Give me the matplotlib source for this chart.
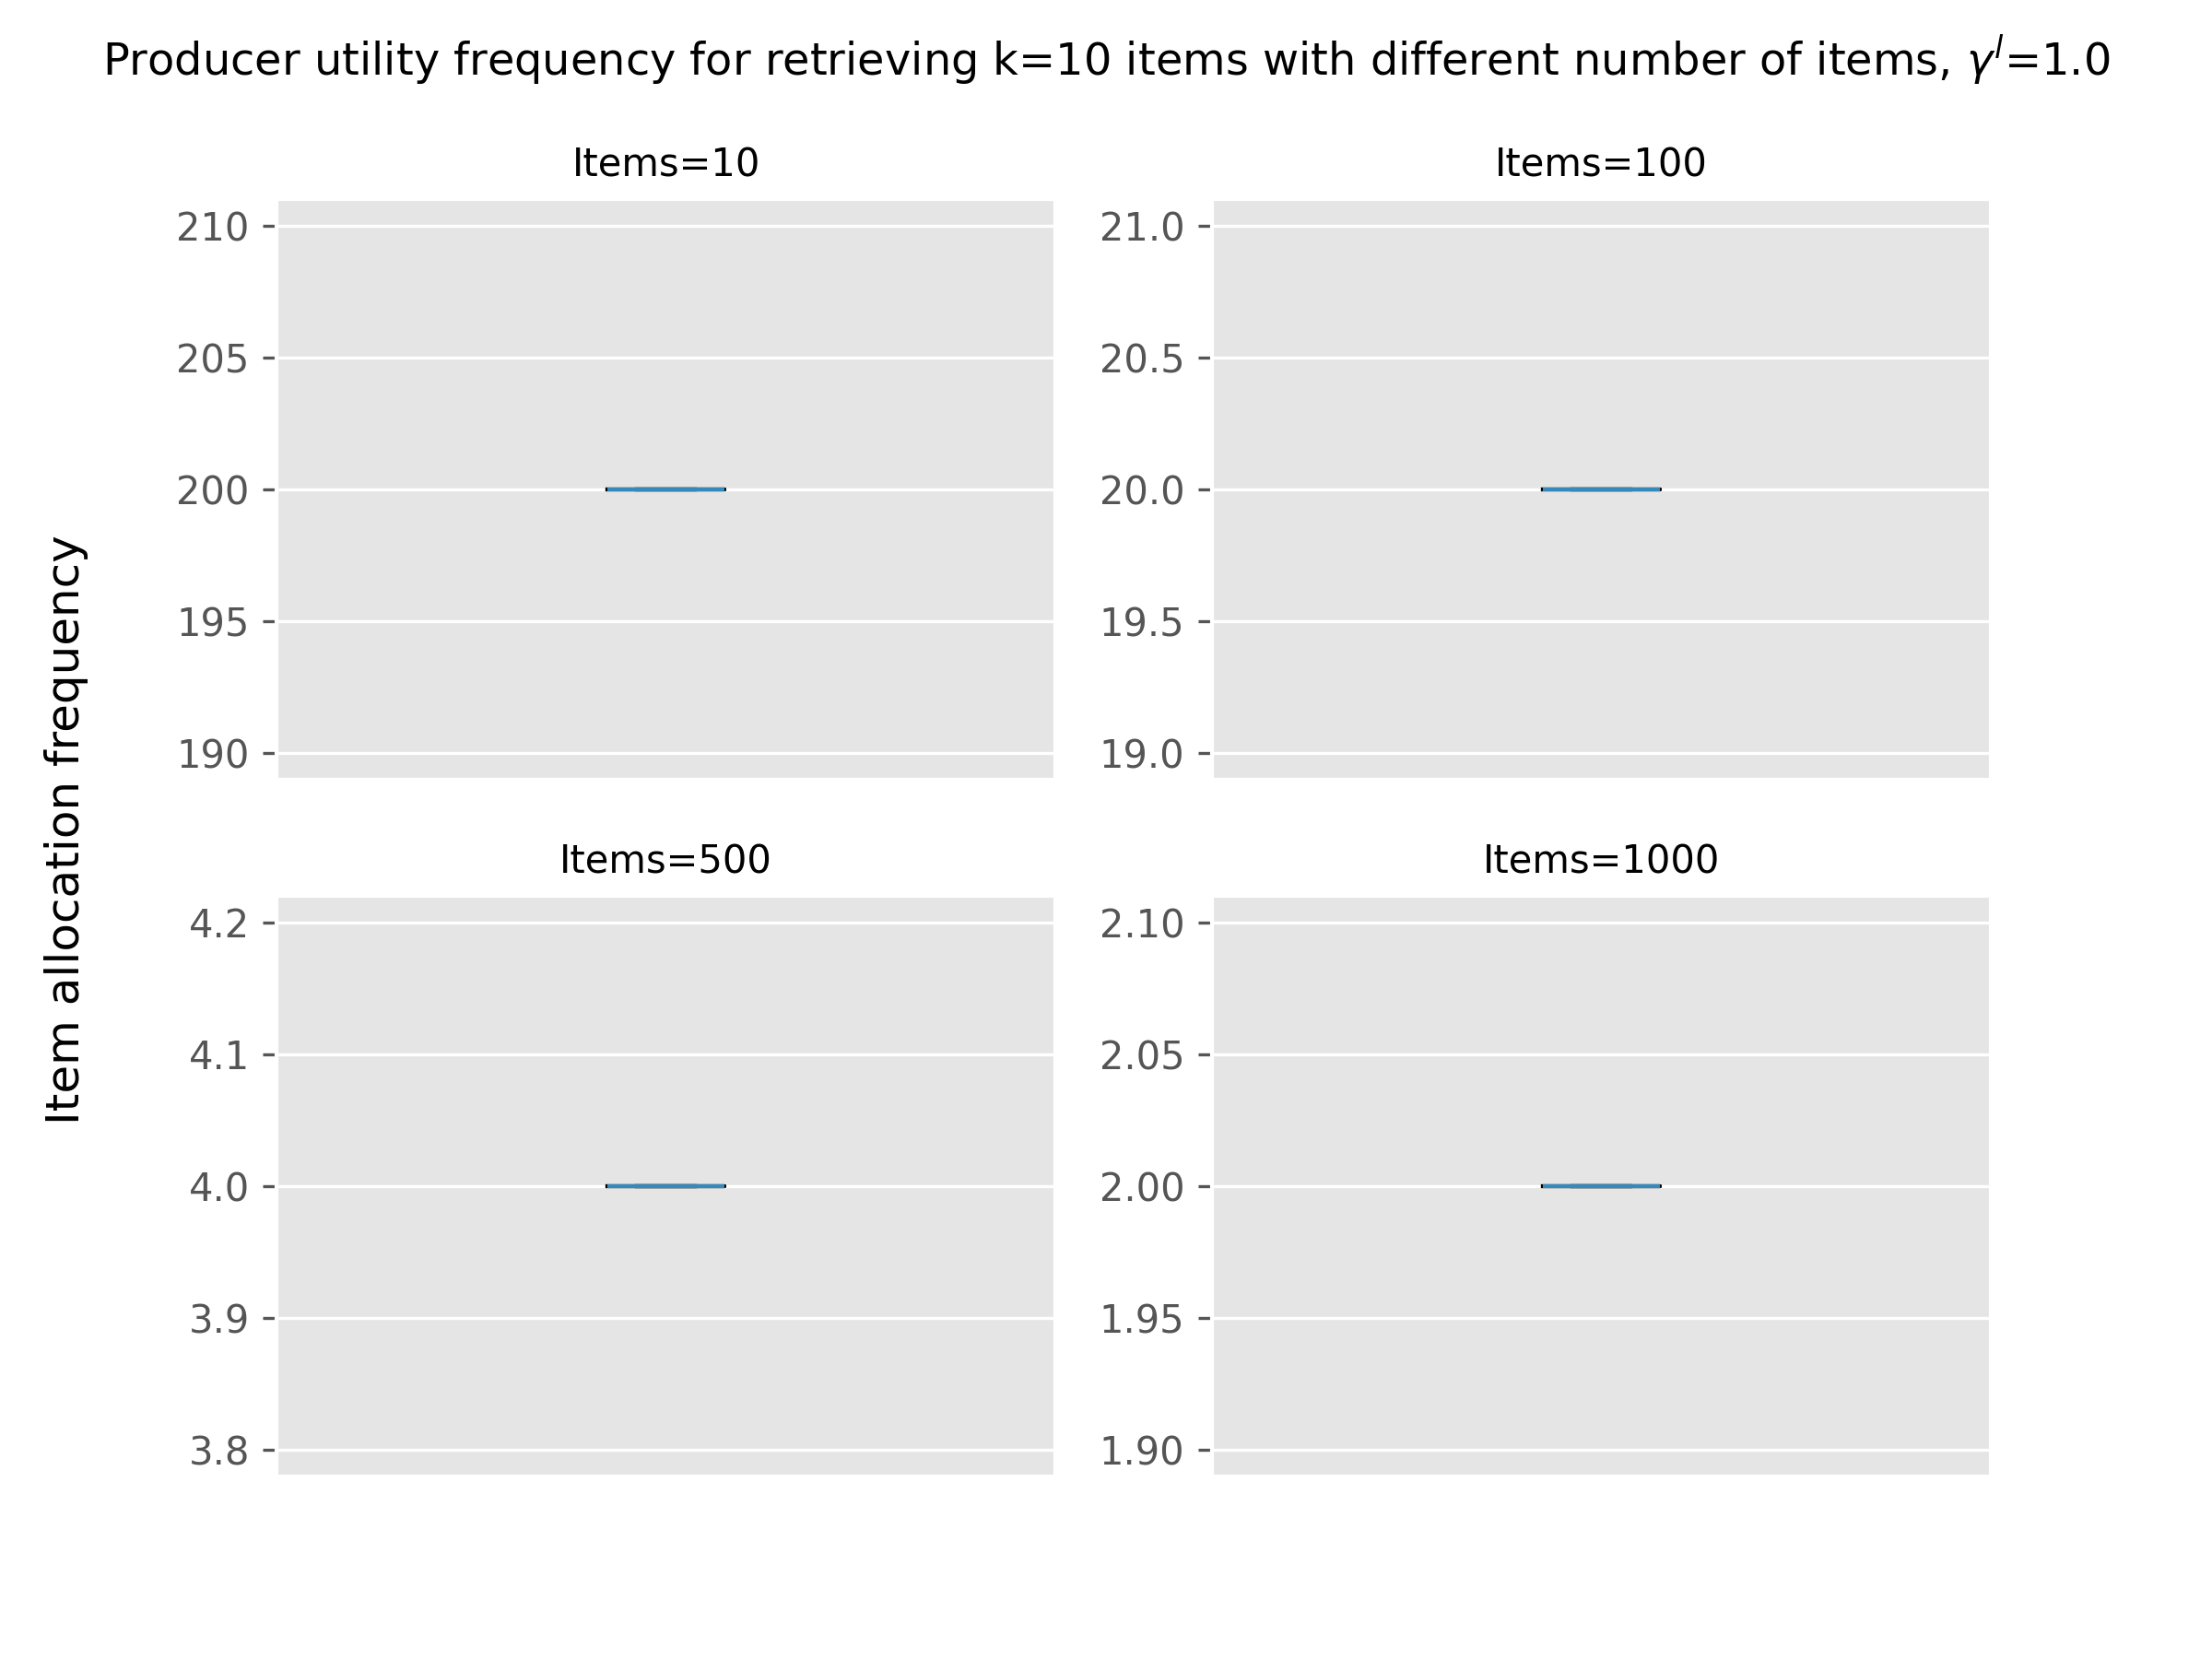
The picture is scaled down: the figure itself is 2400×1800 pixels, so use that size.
import matplotlib
matplotlib.use("Agg")
import matplotlib.pyplot as plt

plt.style.use("ggplot")
titles = ["Items=10", "Items=100", "Items=500", "Items=1000"]
values = [[200.0] * 10, [20.0] * 100, [4.0] * 500, [2.0] * 1000]

fig, axes = plt.subplots(2, 2, figsize=(8, 6), dpi=300)
for ax, t, v in zip(axes.flat, titles, values):
    ax.boxplot(v, medianprops=dict(color="#348ABD"))
    ax.set_title(t, fontsize=10)
    ax.set_xticks([])
    ax.grid(axis="x", visible=False)
fig.suptitle(r"Producer utility frequency for retrieving k=10 items with different number of items, $\gamma^l$=1.0", fontsize=11.5)
fig.supylabel("Item allocation frequency", fontsize=12)
fig.savefig("out.png")
